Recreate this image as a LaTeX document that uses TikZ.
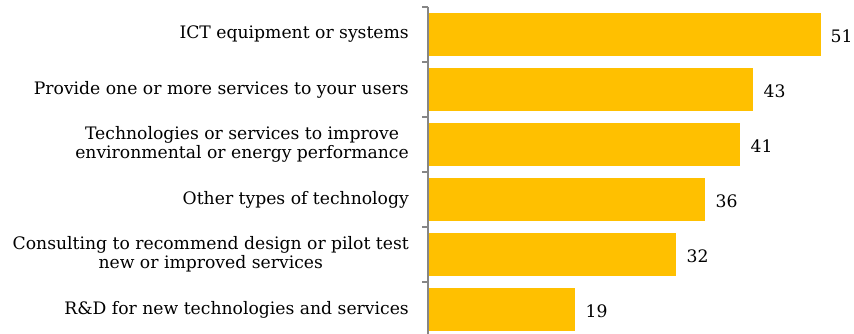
\documentclass[tikz,border=0pt]{standalone}
\usepackage{fontspec}
\setmainfont{DejaVu Serif}
\usepackage{tikz}
\usetikzlibrary{positioning}
\usepackage{xcolor}
\definecolor{barGold}{HTML}{FFC000}
\definecolor{axisGray}{HTML}{868686}

\tikzset{
	bar/.style={rectangle, fill=barGold, draw=none, inner sep=0pt, minimum height=43pt, anchor=west},
	category/.style={align=center, inner sep=0pt, font=\fontsize{17.2}{19}\selectfont},
	value/.style={inner sep=0pt, yshift=-2pt, font=\fontsize{17.2}{19}\selectfont},
	axis/.style={draw=axisGray, line width=1.2pt}
}

\begin{document}
\begin{tikzpicture}[x=1pt, y=-1pt]
	\useasboundingbox (0,0) rectangle (854,334);
	\node[bar, minimum width=393pt] (barICT) at (428,34.5) {};
	\node[bar, minimum width=325pt] (barServices) at (428,89.5) {};
	\node[bar, minimum width=312pt] (barEnergy) at (428,144.5) {};
	\node[bar, minimum width=277pt] (barOther) at (428,199.5) {};
	\node[bar, minimum width=248pt] (barConsulting) at (428,254.5) {};
	\node[bar, minimum width=147pt] (barRD) at (428,309.5) {};
	
	\node[value] (valICT) [right=9pt of barICT] {51};
	\node[value] (valServices) [right=10pt of barServices] {43};
	\node[value] (valEnergy) [right=10pt of barEnergy] {41};
	\node[value] (valOther) [right=10pt of barOther] {36};
	\node[value] (valConsulting) [right=10pt of barConsulting] {32};
	\node[value] (valRD) [right=10pt of barRD] {19};
	
	\node[category] (catICT) [left=19pt of barICT] {ICT equipment or systems};
	\node[category] (catServices) [left=19pt of barServices] {Provide one or more services to your users};
	\node[category] (catEnergy) [left=19pt of barEnergy] {Technologies or services to improve\\environmental or energy performance};
	\node[category] (catOther) [left=19pt of barOther] {Other types of technology};
	\node[category] (catConsulting) [left=19pt of barConsulting] {Consulting to recommend design or pilot test\\new or improved services};
	\node[category] (catRD) [left=19pt of barRD] {R\&D for new technologies and services};
	
	% axis and ticks
	\draw[axis] (428,7) -- (428,334);
	\foreach \t in {0,...,5}
	\draw[axis] (422,7+55*\t) -- (428,7+55*\t);
\end{tikzpicture}
\end{document}
